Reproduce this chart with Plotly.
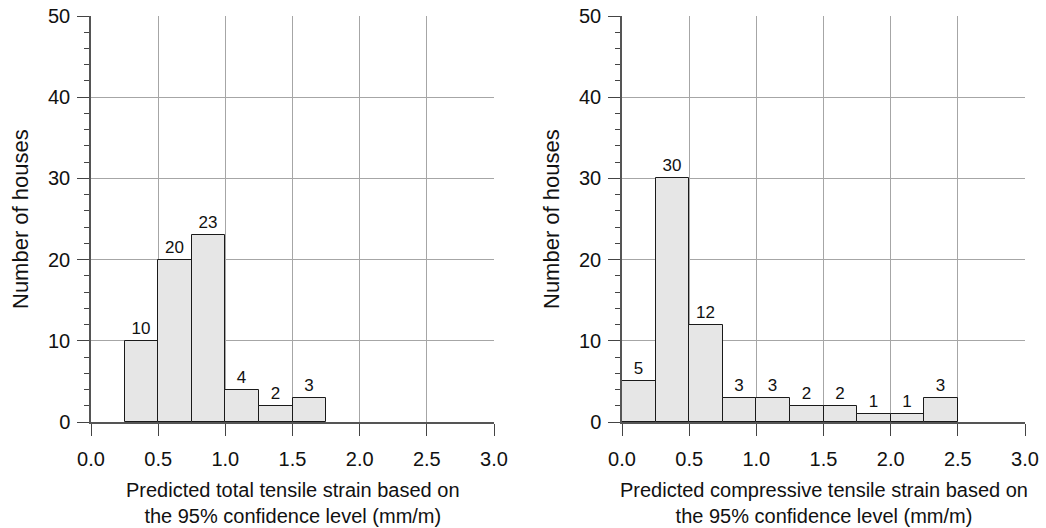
import plotly.graph_objects as go
from plotly.subplots import make_subplots

# Histogram bins: lower edge of each 0.25 mm/m bin and the count of houses in it
tensile_bins = [0.25, 0.50, 0.75, 1.00, 1.25, 1.50]
tensile_counts = [10, 20, 23, 4, 2, 3]

compressive_bins = [0.00, 0.25, 0.50, 0.75, 1.00, 1.25, 1.50, 1.75, 2.00, 2.25]
compressive_counts = [5, 30, 12, 3, 3, 2, 2, 1, 1, 3]

bin_width = 0.25
x_ticks = [0.0, 0.5, 1.0, 1.5, 2.0, 2.5, 3.0]
y_ticks = [0, 10, 20, 30, 40, 50]

y_title = "Number of houses"
x_title_left = "Predicted total tensile strain based on<br>the 95% confidence level (mm/m)"
x_title_right = "Predicted compressive tensile strain based on<br>the 95% confidence level (mm/m)"

FONT = "Liberation Sans, Arial, sans-serif"
W, H = 1046, 528

fig = make_subplots(rows=1, cols=2)

for col, (bins, counts) in enumerate(
    [(tensile_bins, tensile_counts), (compressive_bins, compressive_counts)], start=1
):
    fig.add_trace(
        go.Bar(
            x=bins,
            y=counts,
            width=bin_width,
            offset=0,
            marker=dict(color="#e6e6e6", line=dict(color="#1a1a1a", width=1)),
            text=[str(c) for c in counts],
            textposition="outside",
            textfont=dict(family=FONT, size=17, color="#111"),
            cliponaxis=False,
            showlegend=False,
        ),
        row=1, col=col,
    )

# Plot areas in pixels
left_px = [(91, 494), (622, 1025)]
top_px, bottom_px = 16, 422

axis_common_x = dict(
    range=[0, 3],
    tickvals=x_ticks,
    ticktext=[f"{v:.1f}" for v in x_ticks],
    ticks="outside",
    ticklen=12,
    tickwidth=1,
    tickcolor="#444",
    showgrid=True,
    gridcolor="#a6a6a6",
    gridwidth=1,
    showline=True,
    linecolor="#555",
    linewidth=1.5,
    zeroline=False,
    automargin=False,
    tickfont=dict(family=FONT, size=20, color="#111"),
    ticklabelstandoff=6,
)
axis_common_y = dict(
    range=[0, 50],
    tickvals=y_ticks,
    ticks="outside",
    ticklen=12,
    tickwidth=1,
    tickcolor="#444",
    minor=dict(dtick=2, ticks="outside", ticklen=5, tickcolor="#444", showgrid=False),
    showgrid=True,
    gridcolor="#a6a6a6",
    gridwidth=1,
    showline=True,
    linecolor="#555",
    linewidth=1.5,
    zeroline=False,
    automargin=False,
    tickfont=dict(family=FONT, size=20, color="#111"),
    ticklabelstandoff=3,
)

y_dom = [(H - bottom_px) / H, (H - top_px) / H]
for i, (l, r) in enumerate(left_px, start=1):
    xa = "xaxis" if i == 1 else f"xaxis{i}"
    ya = "yaxis" if i == 1 else f"yaxis{i}"
    fig.layout[xa].update(domain=[l / W, r / W], **axis_common_x)
    fig.layout[ya].update(domain=y_dom, **axis_common_y)

annotations = []
for (l, r), xt in zip(left_px, [x_title_left, x_title_right]):
    annotations.append(dict(
        x=(l + r) / 2 / W, y=(H - 503) / H, xref="paper", yref="paper",
        text=xt, showarrow=False, xanchor="center", yanchor="middle",
        font=dict(family=FONT, size=20, color="#111"), align="center",
    ))
for cx in [20, 551]:
    annotations.append(dict(
        x=cx / W, y=(H - (top_px + bottom_px) / 2) / H, xref="paper", yref="paper",
        text=y_title, showarrow=False, textangle=-90,
        xanchor="center", yanchor="middle",
        font=dict(family=FONT, size=22, color="#111"),
    ))

fig.update_layout(
    width=W, height=H,
    margin=dict(l=0, r=0, t=0, b=0),
    paper_bgcolor="white",
    plot_bgcolor="white",
    bargap=0,
    annotations=annotations,
)

fig.write_html("out.html")
